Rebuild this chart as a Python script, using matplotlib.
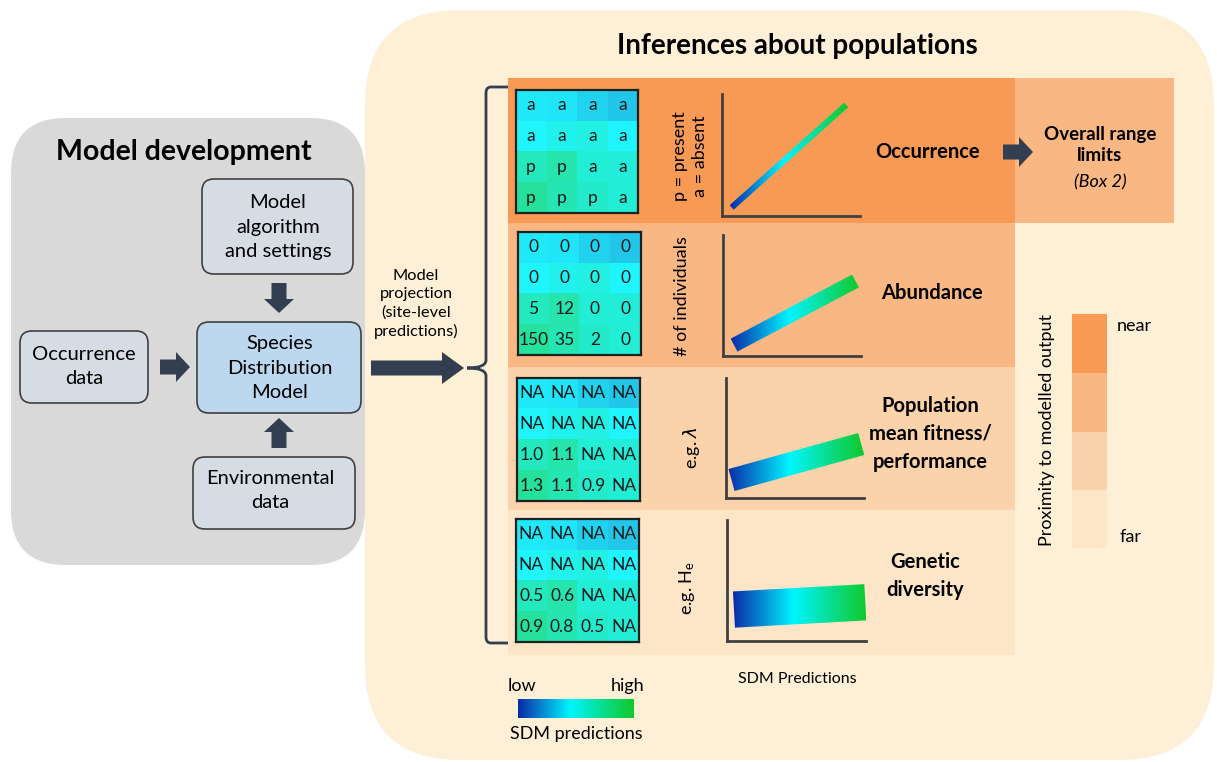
import numpy as np
import matplotlib.pyplot as plt
from matplotlib.patches import FancyBboxPatch, FancyArrow, Rectangle, Polygon, PathPatch
from matplotlib.path import Path
from matplotlib.colors import LinearSegmentedColormap

plt.rcParams['font.family'] = ['Lato', 'DejaVu Sans']

W, H = 1217, 762

# SDM prediction for each site of the 4x4 landscape (same in all panels)
sdm_grid = [[0.42, 0.41, 0.36, 0.33],
            [0.46, 0.50, 0.53, 0.45],
            [0.64, 0.69, 0.57, 0.56],
            [0.74, 0.67, 0.60, 0.57]]

occ_labels = [['a', 'a', 'a', 'a'], ['a', 'a', 'a', 'a'],
              ['p', 'p', 'a', 'a'], ['p', 'p', 'p', 'a']]
abund_labels = [['0', '0', '0', '0'], ['0', '0', '0', '0'],
                ['5', '12', '0', '0'], ['150', '35', '2', '0']]
fit_labels = [['NA'] * 4, ['NA'] * 4,
              ['1.0', '1.1', 'NA', 'NA'], ['1.3', '1.1', '0.9', 'NA']]
div_labels = [['NA'] * 4, ['NA'] * 4,
              ['0.5', '0.6', 'NA', 'NA'], ['0.9', '0.8', '0.5', 'NA']]
cell_labels = [occ_labels, abund_labels, fit_labels, div_labels]

row_names = ['Occurrence', 'Abundance',
             'Population\nmean fitness/\nperformance', 'Genetic\ndiversity']
row_ylabels = ['p = present\na = absent', '# of individuals',
               r'e.g. $\lambda$', r'e.g. $\mathregular{H_e}$']

# response vs SDM prediction: start point, end point, spread of the band
trend_start = [(0.07, 0.07), (0.08, 0.09), (0.04, 0.15), (0.05, 0.26)]
trend_end = [(0.90, 0.91), (0.96, 0.62), (0.98, 0.45), (0.995, 0.32)]
trend_spread = [0.05, 0.12, 0.19, 0.30]

proximity_labels = ['near', 'far']

# ---- styles ----
sdm_cmap = LinearSegmentedColormap.from_list(
    'sdm', [(0, '#0b2aa8'), (0.45, '#00f5ff'), (1, '#10c828')])
row_colors = ['#f79a55', '#f9b784', '#fbd3ab', '#fde6c8']
navy = '#333f50'
edge = '#404040'

fig = plt.figure(figsize=(W / 100, H / 100), dpi=100)
ax = fig.add_axes([0, 0, 1, 1])
ax.set_xlim(0, W)
ax.set_ylim(H, 0)
ax.axis('off')


def px_axes(x0, y0, x1, y1):
    return fig.add_axes([x0 / W, 1 - y1 / H, (x1 - x0) / W, (y1 - y0) / H])


def rbox(x0, y0, x1, y1, r, fc, ec='none', lw=0, z=1):
    p = FancyBboxPatch((x0, y0), x1 - x0, y1 - y0,
                       boxstyle=f'round,pad=0,rounding_size={r}',
                       fc=fc, ec=ec, lw=lw, zorder=z)
    ax.add_patch(p)


def arrow(x, y, dx, dy, w=15, hw=30, hl=14):
    ax.add_patch(FancyArrow(x, y, dx, dy, width=w, head_width=hw, head_length=hl,
                            length_includes_head=True, color=navy, lw=0, zorder=5))


# ---- backgrounds ----
rbox(365, 10, 1214, 760, 95, '#fdf0d6')
rbox(11, 118, 365, 565, 55, '#d9d9d9')

ax.text(184, 152, 'Model development', fontsize=20.5, fontweight='bold',
        ha='center', va='center')
ax.text(797, 46, 'Inferences about populations', fontsize=20, fontweight='bold',
        ha='center', va='center')

# ---- model development boxes ----
box_txt = dict(fontsize=14.5, ha='center', va='center', linespacing=1.5, zorder=4)
rbox(20, 331, 148, 403, 12, '#d6dce4', edge, 1.2, 3)
ax.text(84, 367, 'Occurrence\ndata', **box_txt)
rbox(202, 179, 353, 274, 12, '#d6dce4', edge, 1.2, 3)
ax.text(278, 227, 'Model\nalgorithm\nand settings', **box_txt)
rbox(197, 322, 361, 413, 12, '#bdd7ee', edge, 1.2, 3)
ax.text(280, 368, 'Species\nDistribution\nModel', **box_txt)
rbox(193, 457, 355, 529, 12, '#d6dce4', edge, 1.2, 3)
ax.text(270, 490, 'Environmental\ndata', **box_txt)

arrow(160, 367, 30, 0)
arrow(279, 283, 0, 30)
arrow(279, 448, 0, -30)
arrow(371, 368, 93, 0, w=15, hw=32, hl=22)

ax.text(416, 304, 'Model\nprojection\n(site-level\npredictions)', fontsize=11.8,
        ha='center', va='center', linespacing=1.35)

# ---- brace ----
bv = [(508, 87), (491, 87), (486, 87), (486, 93), (486, 360), (486, 368), (467, 368),
      (486, 368), (486, 376), (486, 637), (486, 643), (491, 643), (508, 643)]
bc = [Path.MOVETO, Path.LINETO, Path.CURVE3, Path.CURVE3, Path.LINETO, Path.CURVE3,
      Path.CURVE3, Path.CURVE3, Path.CURVE3, Path.LINETO, Path.CURVE3, Path.CURVE3,
      Path.LINETO]
ax.add_patch(PathPatch(Path(bv, bc), fc='none', ec=navy, lw=2, zorder=4))

# ---- rows ----
row_y = [(78, 223), (223, 367), (367, 510), (510, 655)]
for i, (y0, y1) in enumerate(row_y):
    ax.add_patch(Rectangle((508, y0), 1015 - 508, y1 - y0, fc=row_colors[i], lw=0, zorder=2))
ax.add_patch(Rectangle((1015, 78), 1174 - 1015, 145, fc=row_colors[1], lw=0, zorder=2))
arrow(1003, 152, 30, 0)
ax.text(1100, 145, 'Overall range\nlimits', fontsize=13.5, fontweight='bold',
        ha='center', va='center', linespacing=1.25, zorder=4)
ax.text(1100, 182, '(Box 2)', fontsize=13, style='italic', ha='center',
        va='center', zorder=4)

grid_box = [(515, 90, 639, 213), (517, 232, 642, 355),
            (516, 378, 640, 501), (515, 519, 640, 642)]
ylab_pos = [(690, 156), (682, 296), (692, 448), (687, 588)]
plot_box = [(722, 94, 860, 216), (723, 235, 861, 356),
            (726, 378, 864, 498), (727, 520, 866, 641)]
name_pos = [(928, 152), (932, 293), (930, 434), (925, 576)]

for i in range(4):
    gx = px_axes(*grid_box[i])
    gx.set_facecolor('white')
    gx.imshow(sdm_grid, cmap=sdm_cmap, vmin=0, vmax=1, alpha=0.88,
              extent=(0, 4, 4, 0), interpolation='nearest')
    for r in range(4):
        for c in range(4):
            gx.text(c + 0.5, r + 0.5, cell_labels[i][r][c], fontsize=12.5,
                    ha='center', va='center', color='#1a1a1a')
    gx.set_xticks([])
    gx.set_yticks([])
    for s in gx.spines.values():
        s.set_linewidth(1.6)
        s.set_color('#202020')

    ax.text(*ylab_pos[i], row_ylabels[i], fontsize=13, rotation=90,
            ha='center', va='center', linespacing=1.3, zorder=4)
    ax.text(*name_pos[i], row_names[i], fontsize=14.5, fontweight='bold',
            ha='center', va='center', linespacing=1.5, zorder=4)

    mx = px_axes(*plot_box[i])
    mx.set_xlim(0, 1)
    mx.set_ylim(0, 1)
    mx.patch.set_alpha(0)
    mx.set_xticks([])
    mx.set_yticks([])
    for k in ['top', 'right']:
        mx.spines[k].set_visible(False)
    for k in ['left', 'bottom']:
        mx.spines[k].set_linewidth(2)
        mx.spines[k].set_color(edge)
    # band perpendicular to the trend, built in display space
    p0 = mx.transData.transform(trend_start[i])
    p1 = mx.transData.transform(trend_end[i])
    d = (p1 - p0) / np.hypot(*(p1 - p0))
    n = np.array([-d[1], d[0]])
    half = trend_spread[i] * (plot_box[i][3] - plot_box[i][1]) / 2
    corners = np.array([p0 + n * half, p1 + n * half, p1 - n * half, p0 - n * half])
    corners = mx.transData.inverted().transform(corners)
    poly = Polygon(corners, closed=True, fc='none', ec='none')
    mx.add_patch(poly)
    grad = np.linspace(0, 1, 256).reshape(1, -1)
    im = mx.imshow(grad, cmap=sdm_cmap, aspect='auto',
                   extent=(corners[:, 0].min(), corners[:, 0].max(),
                           corners[:, 1].min(), corners[:, 1].max()))
    im.set_clip_path(poly)
    mx.set_xlim(0, 1)
    mx.set_ylim(0, 1)
    mx.spines['left'].set_zorder(5)

# ---- proximity legend ----
blk = [314, 373, 432, 490, 548]
for i in range(4):
    ax.add_patch(Rectangle((1072, blk[i]), 35, blk[i + 1] - blk[i],
                           fc=row_colors[i], lw=0, zorder=3))
ax.text(1117, 326, proximity_labels[0], fontsize=13, ha='left', va='center')
ax.text(1120, 537, proximity_labels[1], fontsize=13, ha='left', va='center')
ax.text(1047, 430, 'Proximity to modelled output', fontsize=13, rotation=90,
        ha='center', va='center')

# ---- colour legend ----
cx = px_axes(518, 699, 634, 718)
cx.imshow(np.linspace(0, 1, 256).reshape(1, -1), cmap=sdm_cmap, aspect='auto')
cx.axis('off')
ax.text(508, 686, 'low', fontsize=13, ha='left', va='center')
ax.text(644, 686, 'high', fontsize=13, ha='right', va='center')
ax.text(576, 734, 'SDM predictions', fontsize=13, ha='center', va='center')
ax.text(797, 679, 'SDM Predictions', fontsize=11.5, ha='center', va='center')

fig.savefig('out.png', dpi=100)
